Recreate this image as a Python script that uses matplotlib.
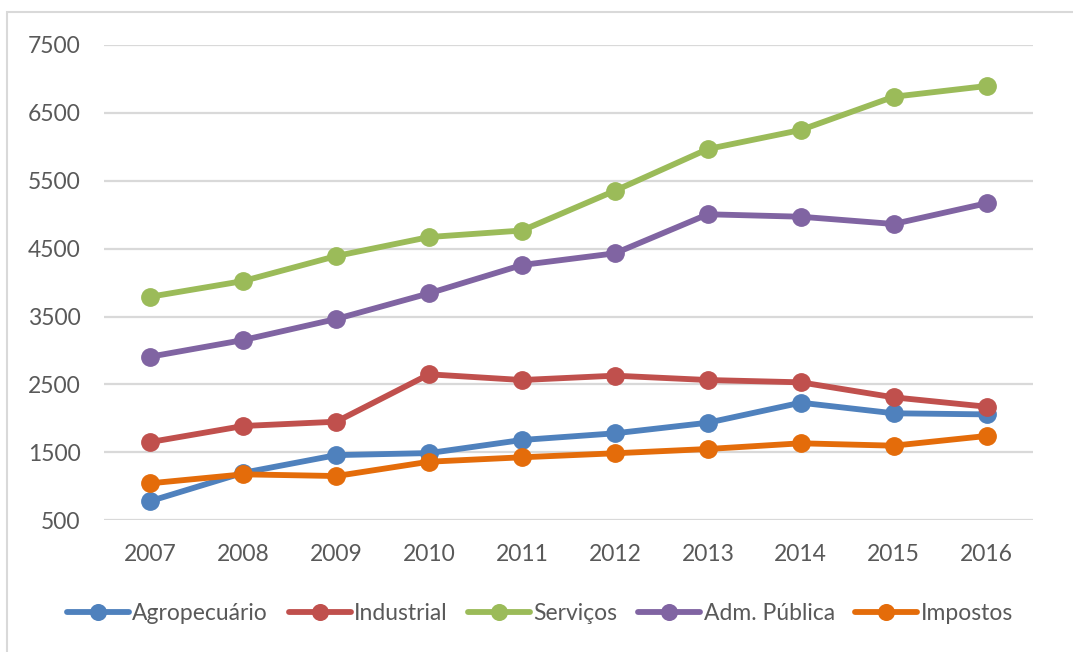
import matplotlib
matplotlib.use("Agg")
import matplotlib.pyplot as plt
from matplotlib.patches import Rectangle

years = ["2007", "2008", "2009", "2010", "2011", "2012", "2013", "2014", "2015", "2016"]
agropecuario = [784, 1200, 1460, 1490, 1683, 1781, 1937, 2232, 2076, 2060]
industrial = [1653, 1889, 1952, 2650, 2566, 2630, 2566, 2532, 2311, 2173]
servicos = [3793, 4024, 4392, 4672, 4768, 5354, 5968, 6248, 6738, 6896]
adm_publica = [2910, 3155, 3465, 3843, 4260, 4432, 5007, 4971, 4864, 5169]
impostos = [1045, 1177, 1152, 1363, 1428, 1487, 1550, 1634, 1599, 1742]

series = [
    ("Agropecuário", agropecuario, "#4F81BD"),
    ("Industrial", industrial, "#C0504D"),
    ("Serviços", servicos, "#9BBB59"),
    ("Adm. Pública", adm_publica, "#8064A2"),
    ("Impostos", impostos, "#E46C0A"),
]

plt.rcParams['font.family'] = ['Lato', 'DejaVu Sans']

W, H = 1073, 652
fig = plt.figure(figsize=(W / 100, H / 100), dpi=100)

# chart frame (cropped on the right/bottom)
fig.patches.append(Rectangle((7 / W, -0.1), 1.2, 1.1 - 12 / H, transform=fig.transFigure,
                             fill=False, edgecolor="#D9D9D9", linewidth=1.5))

ax = fig.add_axes([104 / W, 1 - 520.3 / H, (1033 - 104) / W, (520.3 - 45) / H])
x = list(range(len(years)))
for name, vals, col in series:
    ax.plot(x, vals, color=col, linewidth=4.2, marker="o", markersize=12.5,
            label=name, solid_capstyle="round", zorder=3)

ax.set_xlim(-0.5, len(years) - 0.5)
ax.set_ylim(500, 7500)
ax.set_yticks(range(500, 7501, 1000))
ax.set_xticks(x)
ax.set_xticklabels(years)
ax.grid(axis="y", color="#D9D9D9", linewidth=1.6, zorder=0)
ax.set_axisbelow(True)
for s in ax.spines.values():
    s.set_visible(False)
ax.tick_params(length=0, labelsize=16.5, labelcolor="#595959")
ax.tick_params(axis="y", pad=17)
ax.tick_params(axis="x", pad=17)

fig.legend(loc="center", bbox_to_anchor=(540 / W, 1 - 614 / H), ncol=5, frameon=False,
           fontsize=16.5, labelcolor="#595959", handlelength=2.7, handletextpad=0.15,
           columnspacing=0.9, markerscale=0.9)

fig.savefig("out.png", dpi=100)
